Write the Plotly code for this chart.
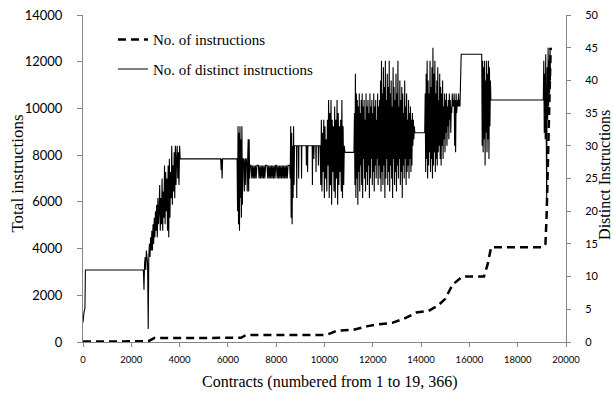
import plotly.graph_objects as go

# ---------------- data ----------------
# Total instructions (left axis, dashed)
total_x = [0, 2700, 2950, 6550, 6750, 10000, 10200, 10500, 11200, 11800, 12200, 12800,
           13300, 13800, 14300, 14700, 15000, 15300, 15700, 16600, 16750, 16900,
           19050, 19150, 19200, 19250, 19300, 19366]
total_y = [20, 30, 170, 180, 300, 300, 350, 480, 520, 680, 750, 820,
           1000, 1260, 1330, 1560, 1850, 2450, 2800, 2800, 3300, 4060,
           4060, 4200, 5500, 7500, 10000, 12600]

# Distinct instructions (right axis, solid): plateaus given as explicit points,
# noisy stretches as value lists sampled every `step` contracts from `start`.
head_x = [0, 40, 80, 100, 2490]
head_y = [3, 4.5, 5.2, 11, 11]

noise_a_start, noise_a_step = 2500, 25
noise_a = [11, 8, 12, 13, 11, 14, 13, 12, 2, 13, 15, 13, 16, 14, 17, 14, 18, 15, 19, 16,
           20, 17, 21, 16, 22, 18, 20, 24, 17, 22, 18, 25, 17, 23, 19, 27, 18, 26, 20, 25,
           17, 27, 16, 28, 19, 26, 22, 30, 21, 27, 23, 29, 22, 30, 24, 28, 30, 25, 29, 24,
           30, 28, 28]

plateau_b_x = [5700, 5720, 5740, 5760, 5780, 6370]
plateau_b_y = [28, 26.3, 28, 25, 28, 28]

noise_b_start, noise_b_step = 6380, 20
noise_b = [28, 20, 33, 18, 32, 17, 33, 22, 31, 19, 33, 21, 28, 28, 27, 23, 28, 24, 28, 28,
           27, 23, 28, 31, 23, 31, 25, 27]

noise_c_start, noise_c_step = 6960, 30
noise_c = [27, 25, 27, 25, 27, 25, 27, 25, 27, 27, 27, 25, 27, 25, 27, 25, 27, 25, 27, 25,
           27, 27, 27, 25, 27, 25, 27, 25, 27, 25, 27, 25, 27, 25, 27, 27, 25, 27, 25, 27,
           25, 27, 25, 27, 25, 27, 25, 27, 25, 27, 25, 27]

noise_d_start, noise_d_step = 8560, 20
noise_d = [27, 25, 33, 19, 32, 18, 30, 22, 33, 24, 30, 30]

plateau_e_x = [8800, 8840, 8850, 8860, 8920, 8930, 8940, 9040, 9050, 9060, 9240, 9250, 9260,
               9290, 9300, 9310, 9490, 9500, 9510, 9550, 9560, 9570, 9640, 9650, 9660,
               9740, 9750, 9760, 9800]
plateau_e_y = [30, 30, 22, 30, 30, 25, 30, 30, 25, 30, 30, 27, 30,
               30, 26, 30, 30, 24, 30, 30, 28, 30, 30, 26, 30,
               30, 27, 30, 30]

noise_f_start, noise_f_step = 9820, 25
noise_f = [30, 24, 34, 23, 32, 26, 34, 22, 33, 25, 31, 23, 34, 27, 37, 22, 35, 24, 37, 21,
           34, 26, 33, 23, 36, 22, 34, 25, 37, 21, 35, 24, 33, 26, 34, 23, 37, 22, 33, 24,
           30, 29]

plateau_g_x = [11200]
plateau_g_y = [29]

noise_h_start, noise_h_step = 11220, 20
noise_h = [29, 35, 24, 41, 22, 38, 25, 37, 21, 36, 26, 38, 23, 35, 27, 37, 24, 38, 22, 36,
           28, 37, 25, 34, 23, 38, 26, 36, 24, 37, 27, 35, 22, 38, 25, 36, 28, 37, 24, 35,
           26, 38, 23, 36, 27, 37, 25, 34, 28, 38, 24, 36, 27, 37,
           25, 40, 23, 43, 26, 38, 24, 42, 27, 39, 22, 43, 25, 37, 28, 41, 24, 39, 26, 43,
           23, 38, 27, 40, 25, 36, 22, 42, 28, 39, 24, 37, 26, 41, 23, 38, 27, 43, 25, 36,
           28, 40, 24, 37, 26, 39, 22, 38, 27, 35, 25, 40, 28, 36, 24, 38, 26, 34, 27, 37,
           25, 35, 28, 36, 26, 34, 27, 35, 30, 34, 31, 33, 32]

plateau_i_x = [14140]
plateau_i_y = [32]

noise_j_start, noise_j_step = 14150, 20
noise_j = [32, 38, 26, 41, 28, 43, 25, 40, 27, 38, 29, 43, 26, 39, 28, 42, 25, 45, 27, 41,
           29, 43, 26, 38, 28, 40, 27, 42, 29, 37, 30, 41, 28, 39, 27, 38, 30, 40, 28, 36,
           31, 38, 29, 37, 32, 38, 30, 36, 33, 37, 31, 38, 34, 37, 32, 36, 35, 38, 36, 37,
           36, 38, 30, 37, 29, 38, 35, 36, 37, 36, 38, 36, 37, 36]

plateau_k_x = [15660, 16500]
plateau_k_y = [44, 44]

noise_l_start, noise_l_step = 16510, 20
noise_l = [44, 30, 43, 29, 42, 31, 43, 27, 40, 32, 43, 29, 41, 31, 43, 28, 42, 33, 40, 37]

plateau_m_x = [19040]
plateau_m_y = [37]

noise_n_start, noise_n_step = 19060, 20
noise_n = [37, 43, 32, 41, 31, 44, 33, 22, 42, 34, 45, 36, 43, 38, 45, 40]

x_ticks = [0, 2000, 4000, 6000, 8000, 10000, 12000, 14000, 16000, 18000, 20000]
left_ticks = [0, 2000, 4000, 6000, 8000, 10000, 12000, 14000]
right_ticks = [0, 5, 10, 15, 20, 25, 30, 35, 40, 45, 50]

# ---------------- assemble distinct series ----------------
distinct_x, distinct_y = [], []


def add_points(xs, ys):
    distinct_x.extend(xs)
    distinct_y.extend(ys)


def add_noise(start, step, vals):
    distinct_x.extend(start + i * step for i in range(len(vals)))
    distinct_y.extend(vals)


add_points(head_x, head_y)
add_noise(noise_a_start, noise_a_step, noise_a)
add_points(plateau_b_x, plateau_b_y)
add_noise(noise_b_start, noise_b_step, noise_b)
add_noise(noise_c_start, noise_c_step, noise_c)
add_noise(noise_d_start, noise_d_step, noise_d)
add_points(plateau_e_x, plateau_e_y)
add_noise(noise_f_start, noise_f_step, noise_f)
add_points(plateau_g_x, plateau_g_y)
add_noise(noise_h_start, noise_h_step, noise_h)
add_points(plateau_i_x, plateau_i_y)
add_noise(noise_j_start, noise_j_step, noise_j)
add_points(plateau_k_x, plateau_k_y)
add_noise(noise_l_start, noise_l_step, noise_l)
add_points(plateau_m_x, plateau_m_y)
add_noise(noise_n_start, noise_n_step, noise_n)

# ---------------- figure ----------------
AX = "#868686"
SERIF = "Liberation Serif"
SANS = "Lato"

fig = go.Figure()
fig.add_trace(go.Scatter(
    x=total_x, y=total_y, mode="lines", name="No. of instructions",
    line=dict(color="black", width=2.5, dash="8px,5px"),
    yaxis="y", legendgroup="a", legendrank=1,
))
fig.add_trace(go.Scatter(
    x=distinct_x, y=distinct_y, mode="lines", name="No. of distinct instructions",
    line=dict(color="black", width=1.1, simplify=False),
    yaxis="y2", legendgroup="b", legendrank=2,
))

title_font = dict(family=SERIF, size=16, color="black")

fig.update_layout(
    width=613, height=405,
    margin=dict(l=83, r=47, t=15, b=63, autoexpand=False),
    paper_bgcolor="white", plot_bgcolor="white",
    showlegend=True,
    legend=dict(
        x=0.062, y=0.975, xanchor="left", yanchor="top",
        font=dict(family=SERIF, size=15, color="black"),
        bgcolor="rgba(0,0,0,0)", traceorder="grouped", tracegroupgap=7,
    ),
    xaxis=dict(
        range=[0, 20000], tickvals=x_ticks, ticktext=[str(v) for v in x_ticks],
        showgrid=False, zeroline=False, showline=True, linecolor=AX, linewidth=1,
        ticks="outside", ticklen=4, tickcolor=AX, ticklabelstandoff=5,
        tickfont=dict(family=SANS, size=9.5, color="black"), automargin=False,
    ),
    yaxis=dict(
        range=[0, 14000], tickvals=left_ticks, ticktext=[str(v) for v in left_ticks],
        showgrid=False, zeroline=False, showline=True, linecolor=AX, linewidth=1,
        ticks="outside", ticklen=5, tickcolor=AX, ticklabelstandoff=12,
        tickfont=dict(family=SANS, size=13, color="black"), automargin=False,
    ),
    yaxis2=dict(
        range=[0, 50], tickvals=right_ticks, ticktext=[str(v) for v in right_ticks],
        overlaying="y", side="right",
        showgrid=False, zeroline=False, showline=True, linecolor=AX, linewidth=1,
        ticks="outside", ticklen=4, tickcolor=AX, ticklabelstandoff=12,
        tickfont=dict(family=SANS, size=11, color="black"), automargin=False,
    ),
    annotations=[
        dict(text="Contracts (numbered from 1 to 19, 366)", xref="paper", yref="paper",
             x=0.511, y=-0.122, xanchor="center", yanchor="middle", showarrow=False,
             font=title_font),
        dict(text="Total instructions", xref="paper", yref="paper",
             x=-0.1346, y=0.515, xanchor="center", yanchor="middle", showarrow=False,
             textangle=-90, font=dict(family=SERIF, size=17, color="black")),
        dict(text="Distinct Instructions", xref="paper", yref="paper",
             x=1.0807, y=0.511, xanchor="center", yanchor="middle", showarrow=False,
             textangle=-90, font=title_font),
    ],
)

fig.write_html("out.html", config={"displayModeBar": False},
               post_script="document.body.style.margin='0';")
